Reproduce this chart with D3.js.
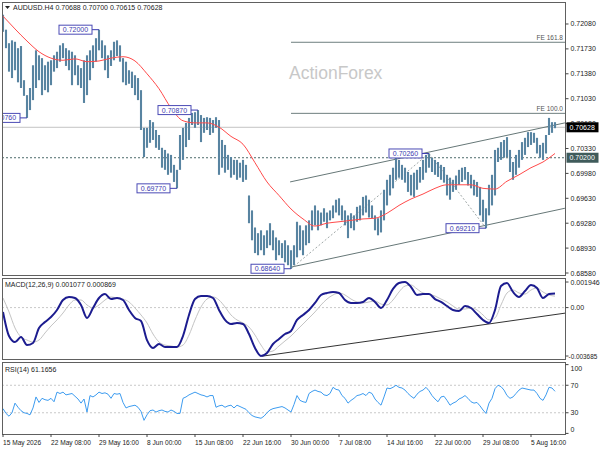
<!DOCTYPE html>
<html><head><meta charset="utf-8">
<script src="https://cdn.jsdelivr.net/npm/d3@7"></script>
<style>body{margin:0;background:#fff}svg{display:block}text{font-family:"Liberation Sans",Arial,sans-serif}</style>
</head><body><svg id="c" width="600" height="450"></svg>
<script>
// ---------- DATA ----------
const highs=[.7221,.7200,.7181,.7185,.7183,.7174,.7177,.7129,.7108,.7118,
.7150,.7171,.7164,.7160,.7150,.7155,.7157,.7164,.7169,.7178,
.7181,.7174,.7171,.7169,.7164,.7150,.7146,.7157,.7164,.7171,
.7178,.7188,.7200,.7185,.7178,.7164,.7171,.7183,.7185,.7178,
.7160,.7155,.7143,.7141,.7136,.7132,.7115,.7062,.7062,.7073,
.7070,.7059,.7052,.7034,.7031,.7026,.7024,.7010,.7003,.7052,
.7062,.7069,.7076,.7083,.7084,.7087,.7080,.7076,.7077,.7076,
.7073,.7077,.7073,.7045,.7038,.7024,.7021,.7017,.7017,.7013,
.7017,.7010,.6967,.6946,.6922,.6914,.6918,.6911,.6918,.6928,
.6918,.6908,.6904,.6900,.6904,.6897,.6890,.6897,.6930,.6925,
.6918,.6925,.6932,.6946,.6953,.6946,.6943,.6949,.6943,.6946,
.6953,.6961,.6963,.6953,.6946,.6939,.6942,.6939,.6951,.6953,
.6965,.6967,.6961,.6953,.6939,.6935,.6946,.6975,.6989,.6996,
.7006,.7020,.7017,.7010,.7006,.7000,.6996,.6999,.7003,.7007,
.7017,.7024,.7026,.7020,.7017,.7014,.7010,.7007,.6996,.6992,
.6989,.6995,.7003,.7006,.7007,.7000,.6996,.6989,.6986,.6979,
.6961,.6949,.6982,.6996,.7031,.7034,.7042,.7045,.7049,.7031,
.7014,.7024,.7031,.7042,.7048,.7056,.7056,.7055,.7048,.7038,
.7041,.7052,.7076,.7070,.70700];
const lows=[.7197,.7174,.7141,.7132,.7143,.7126,.7118,.7107,.7076,.7087,
.7101,.7118,.7129,.7108,.7115,.7112,.7122,.7141,.7146,.7155,
.7160,.7149,.7143,.7122,.7136,.7122,.7118,.7097,.7108,.7129,
.7146,.7155,.7171,.7160,.7143,.7132,.7149,.7157,.7163,.7155,
.7126,.7122,.7124,.7118,.7108,.7101,.7059,.7021,.7034,.7041,
.7045,.7034,.7031,.7006,.7003,.6996,.6999,.6986,.6977,.7003,
.7017,.7035,.7045,.7066,.7062,.7066,.7042,.7055,.7059,.7052,
.7055,.7062,.6996,.7006,.6999,.7003,.6992,.6996,.6989,.6992,
.6986,.6989,.6928,.6904,.6886,.6883,.6890,.6883,.6893,.6897,
.6890,.6876,.6883,.6879,.6873,.6869,.6864,.6869,.6880,.6890,
.6883,.6897,.6900,.6918,.6925,.6918,.6925,.6930,.6921,.6932,
.6935,.6943,.6939,.6932,.6925,.6907,.6921,.6918,.6930,.6932,
.6939,.6943,.6936,.6935,.6918,.6911,.6915,.6932,.6953,.6967,
.6977,.6989,.6992,.6989,.6985,.6972,.6967,.6965,.6975,.6985,
.6989,.6999,.7006,.7000,.6996,.6993,.6989,.6985,.6967,.6961,
.6972,.6975,.6982,.6986,.6989,.6981,.6977,.6967,.6965,.6939,
.6930,.6921,.6939,.6953,.6967,.7014,.7017,.7020,.7021,.7000,
.6989,.6996,.7006,.7017,.7024,.7035,.7038,.7041,.7026,.7020,
.7017,.7026,.7052,.7055,.70615];
const maValues=[.7219,.7201,.7184,.7169,.7160,.7157,.7159,.7155,.7156,.7160,
.7162,.7156,.7138,.7117,.7090,.7072,.7069,.7069,.7063,.7050,
.7039,.7013,.6986,.6967,.6948,.6934,.6924,.6928,.6930,.6932,
.6934,.6935,.6942,.6953,.6962,.6969,.6977,.6982,.6982,.6982,
.6977,.6976,.6987,.6996,.7006,.7014,.7026];
const maStep=4;
const macdValues=[-0.00033,-0.00216,-0.00262,-0.00224,-0.00285,-0.00269,-0.00155,-0.00110,-0.00072,-0.00018,
0.00058,0.00081,0.00073,0.00020,-0.00079,-0.00003,0.00073,0.00103,0.00065,0.00073,
0.00058,-0.00018,-0.00079,-0.00102,-0.00247,-0.00307,-0.00277,-0.00300,-0.00300,-0.00300,
-0.00216,-0.00056,0.00065,0.00088,0.00088,0.00073,-0.00018,-0.00094,-0.00125,-0.00117,
-0.00125,-0.00201,-0.00307,-0.00368,-0.00345,-0.00277,-0.00239,-0.00201,-0.00178,-0.00094,
-0.00056,-0.00018,0.00035,0.00096,0.00111,0.00119,0.00111,0.00058,0.00035,0.00035,
0.00043,0.00073,0.00043,-0.00003,0.00058,0.00142,0.00187,0.00195,0.00157,0.00096,
0.00103,0.00103,0.00065,0.00043,0.00012,-0.00018,-0.00026,0.00012,-0.00003,-0.00049,
-0.00094,-0.00117,-0.00018,0.00164,0.00187,0.00119,0.00081,0.00126,0.00172,0.00149,
0.00073,0.00103,0.00108];
const signalValues=[0.00073,-0.00033,-0.00155,-0.00224,-0.00247,-0.00262,-0.00247,-0.00193,-0.00140,-0.00094,
-0.00041,0.00020,0.00058,0.00058,0.00020,-0.00003,0.00020,0.00058,0.00081,0.00073,
0.00065,0.00043,-0.00003,-0.00056,-0.00117,-0.00201,-0.00262,-0.00285,-0.00292,-0.00300,
-0.00285,-0.00209,-0.00094,0.00005,0.00065,0.00081,0.00058,0.00005,-0.00056,-0.00094,
-0.00117,-0.00148,-0.00209,-0.00285,-0.00338,-0.00330,-0.00292,-0.00254,-0.00216,-0.00170,
-0.00125,-0.00079,-0.00033,0.00020,0.00065,0.00096,0.00111,0.00096,0.00065,0.00043,
0.00035,0.00043,0.00050,0.00027,0.00020,0.00058,0.00119,0.00164,0.00172,0.00142,
0.00111,0.00103,0.00088,0.00065,0.00043,0.00012,-0.00011,-0.00011,-0.00003,-0.00018,
-0.00056,-0.00094,-0.00079,0.00020,0.00111,0.00134,0.00111,0.00103,0.00134,0.00149,
0.00119,0.00096,0.00087];
const macdStep=2;
const rsiValues=[36,29,25,30,44,38,33,30,29,27,
37,53,45,51,49,48,51,46,60,58,
60,56,57,58,54,50,44,50,31,55,
53,56,60,58,59,57,51,58,57,58,
45,37,39,40,41,38,32,19,27,33,
34,31,33,34,32,31,34,32,29,29,
51,53,56,58,60,58,56,55,53,55,
55,38,40,41,38,40,41,37,41,39,
37,35,30,26,24,23,22,25,30,34,
36,37,38,39,37,34,31,42,55,48,
46,45,58,61,63,61,60,56,55,58,
67,64,63,55,51,44,48,51,55,56,
58,55,60,58,50,45,41,53,66,65,
67,70,67,66,63,58,54,51,57,61,
63,67,62,55,50,46,53,54,48,41,
44,46,50,52,55,51,46,44,45,40,
34,29,44,51,65,70,68,63,55,51,
53,58,63,66,65,64,63,63,58,51,
48,56,67,66,61.17];
const priceTicks=[0.72080,0.71730,0.71380,0.71030,0.70680,0.70330,0.69980,0.69630,0.69280,0.68930,0.68580];
const macdTicks=[0.001946,0,-0.003685];
const macdTickText=["0.001946","0.00","-0.003685"];
const rsiTicks=[100,70,30,0];
const timeLabels=["15 May 2026","22 May 08:00","29 May 16:00","8 Jun 00:00","15 Jun 08:00","22 Jun 16:00","30 Jun 00:00","7 Jul 08:00","14 Jul 16:00","22 Jul 00:00","29 Jul 08:00","5 Aug 16:00"];
const timeIndex=[0,16,32,48,64,80,96,112,128,144,160,176];
const swingIdx=[32,65,8,58,96,142,161];
const swingPrice=[0.72000,0.70870,0.70760,0.69770,0.68640,0.70260,0.69210];
const feText=["FE 161.8","FE 100.0"];
const fePrice=[0.71823,0.70824];
const feStartIdx=96;
const lastPrice=0.70628, keyLevel=0.70200;
const channelUpper=[[95.7,0.6986],[187.3,0.7069]];
const channelLower=[[95.7,0.6866],[187.3,0.6949]];
const zigzag=[[96,0.6864],[142,0.7026],[161,0.6921]];
const macdTrend=[[86.3,-0.0037],[187.7,-0.00041]];
const titleText="AUDUSD.H4  0.70688 0.70700 0.70615 0.70628";
const macdTitle="MACD(12,26,9) 0.001077 0.000869";
const rsiTitle="RSI(14) 61.1656";

// ---------- LAYOUT ----------
const L=2,R=565;
const svg=d3.select("#c");
const x=d3.scaleLinear().domain([0,184]).range([3,555]);
const yMain=d3.scaleLinear().domain([0.68552,0.72389]).range([275,2]);
const yMacd=d3.scaleLinear().domain([-0.003911,0.002252]).range([359,278]);
const yRsi=d3.scaleLinear().domain([-0.87,103.8]).range([434,362]);
const defs=svg.append("defs");
function clip(id,y0,y1){defs.append("clipPath").attr("id",id).append("rect").attr("x",L).attr("y",y0).attr("width",R-L).attr("height",y1-y0);}
clip("cm",2,275);clip("cd",278,359);clip("cr",362,434);

const fs=7;
// main panel
const gm=svg.append("g").attr("clip-path","url(#cm)");
gm.append("line").attr("x1",L).attr("x2",R).attr("y1",yMain(lastPrice)).attr("y2",yMain(lastPrice)).attr("stroke","#c4c4c4");
gm.append("line").attr("x1",L).attr("x2",R).attr("y1",yMain(keyLevel)).attr("y2",yMain(keyLevel)).attr("stroke","#4d6b6b").attr("stroke-dasharray","2,2");
fePrice.forEach((p,i)=>{
  gm.append("line").attr("x1",x(feStartIdx)).attr("x2",R).attr("y1",yMain(p)).attr("y2",yMain(p)).attr("stroke","#6e7f7f");
  gm.append("text").attr("x",R-2).attr("y",yMain(p)-2).attr("text-anchor","end").attr("font-size",6.5).attr("fill","#555").text(feText[i]);
});
gm.append("text").attr("x",289).attr("y",79).attr("font-size",17.5).attr("fill","#c8c8c8").text("ActionForex");
const lineFn=d3.line().x(d=>x(d[0])).y(d=>yMain(d[1]));
gm.append("path").attr("d",lineFn(channelUpper)).attr("stroke","#667777").attr("fill","none");
gm.append("path").attr("d",lineFn(channelLower)).attr("stroke","#667777").attr("fill","none");
gm.append("path").attr("d",lineFn(zigzag)).attr("stroke","#a0a8a8").attr("fill","none").attr("stroke-dasharray","2,2");
gm.selectAll("line.bar").data(highs).enter().append("line").attr("class","bar")
  .attr("x1",(d,i)=>x(i)).attr("x2",(d,i)=>x(i)).attr("y1",d=>yMain(d)).attr("y2",(d,i)=>yMain(lows[i]))
  .attr("stroke","#5884a1").attr("stroke-width",2.1);
gm.append("path").attr("d",d3.line().curve(d3.curveMonotoneX).x((d,i)=>x(i*maStep)).y(d=>yMain(d))(maValues))
  .attr("stroke","#ff4a4a").attr("fill","none").attr("stroke-width",1);
swingIdx.forEach((idx,i)=>{
  const yy=yMain(swingPrice[i]), xr=x(idx)-7, w=33;
  gm.append("line").attr("x1",xr).attr("x2",x(idx)).attr("y1",yy).attr("y2",yy).attr("stroke","#3b3bb0");
  gm.append("rect").attr("x",xr-w).attr("y",yy-4.5).attr("width",w).attr("height",9).attr("fill","#fff").attr("stroke","#4b4bb5");
  gm.append("text").attr("x",xr-w/2).attr("y",yy+2.5).attr("text-anchor","middle").attr("font-size",fs).attr("fill","#3b3bb0").text(swingPrice[i].toFixed(5));
});
// MACD panel
const gd=svg.append("g").attr("clip-path","url(#cd)");
gd.append("line").attr("x1",L).attr("x2",R).attr("y1",yMacd(0)).attr("y2",yMacd(0)).attr("stroke","#c8c8c8").attr("stroke-dasharray","2,2");
gd.append("path").attr("d",d3.line().curve(d3.curveMonotoneX).x((d,i)=>x(i*macdStep)).y(d=>yMacd(d))(signalValues)).attr("stroke","#c4c4c4").attr("fill","none").attr("stroke-width",1);
gd.append("path").attr("d",d3.line().x(d=>x(d[0])).y(d=>yMacd(d[1]))(macdTrend)).attr("stroke","#333").attr("fill","none");
gd.append("path").attr("d",d3.line().curve(d3.curveMonotoneX).x((d,i)=>x(i*macdStep)).y(d=>yMacd(d))(macdValues)).attr("stroke","#1c1c8f").attr("fill","none").attr("stroke-width",2);
// RSI panel
const gr=svg.append("g").attr("clip-path","url(#cr)");
[70,30].forEach(v=>gr.append("line").attr("x1",L).attr("x2",R).attr("y1",yRsi(v)).attr("y2",yRsi(v)).attr("stroke","#c8c8c8").attr("stroke-dasharray","2,2"));
gr.append("path").attr("d",d3.line().x((d,i)=>x(i)).y(d=>yRsi(d))(rsiValues)).attr("stroke","#3d9cf0").attr("fill","none").attr("stroke-width",1);

// frames
[[2,275],[278,359],[362,434]].forEach(([a,b])=>svg.append("rect").attr("x",L+0.5).attr("y",a+0.5).attr("width",R-L).attr("height",b-a).attr("fill","none").attr("stroke","#606060"));

// right axes
const ga=svg.append("g").attr("transform",`translate(${R+0.5},0)`);
function rTicks(vals,scale,texts,nudge){
  vals.forEach((v,i)=>{
    let yy=scale(v);
    ga.append("line").attr("x1",0).attr("x2",3).attr("y1",yy).attr("y2",yy).attr("stroke","#444");
    if(nudge){yy=Math.max(nudge[0],Math.min(nudge[1],yy));}
    const t=texts[i];
    ga.append("text").attr("x",t.length>8?3:5).attr("y",yy+2.5).attr("font-size",t.length>8?6.4:fs).attr("fill","#222").text(t);
  });
}
rTicks(priceTicks,yMain,priceTicks.map(d=>d.toFixed(5)));
rTicks(macdTicks,yMacd,macdTickText);
rTicks(rsiTicks,yRsi,rsiTicks.map(String),[368,429]);
function priceBox(p,fill){
  const yy=yMain(p);
  ga.append("rect").attr("x",1).attr("y",yy-5).attr("width",32).attr("height",10).attr("fill",fill);
  ga.append("text").attr("x",4).attr("y",yy+2.5).attr("font-size",fs).attr("fill","#fff").text(p.toFixed(5));
}
priceBox(keyLevel,"#3f5b5b");
priceBox(lastPrice,"#000");

// time axis
timeIndex.forEach((t,i)=>{
  svg.append("line").attr("x1",x(t)).attr("x2",x(t)).attr("y1",434).attr("y2",437).attr("stroke","#444");
  svg.append("text").attr("x",x(t)).attr("y",445).attr("font-size",6.6).attr("fill","#222").text(timeLabels[i]);
});
// titles
svg.append("path").attr("d","M5,6 L10,6 L7.5,9 Z").attr("fill","#222");
svg.append("text").attr("x",13).attr("y",10).attr("font-size",fs).attr("fill","#222").text(titleText);
svg.append("text").attr("x",5).attr("y",287).attr("font-size",fs).attr("fill","#222").text(macdTitle);
svg.append("text").attr("x",5).attr("y",372).attr("font-size",fs).attr("fill","#222").text(rsiTitle);
</script></body></html>
